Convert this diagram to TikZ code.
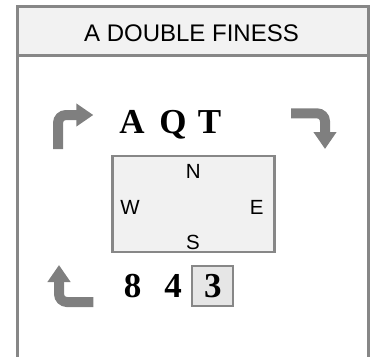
\documentclass[tikz,border=0pt]{standalone}
\usepackage{fontspec}
\setmainfont{Liberation Sans}
\newfontfamily\cardfont{Liberation Serif}
\usepackage{tikz}
\usetikzlibrary{arrows.meta}
\usepackage{xcolor}
\definecolor{Frame}{HTML}{878787}
\definecolor{Head}{HTML}{F2F2F2}
\definecolor{Table}{HTML}{F1F1F1}
\definecolor{Slot}{HTML}{E6E6E6}
\definecolor{Turn}{HTML}{7F7F7F}
\tikzset{
  turn/.style={draw=Turn, line width=10pt, rounded corners=8pt,
               -{Triangle[width=22pt, length=17pt]}},
  card/.style={anchor=base, inner sep=0pt,
               font=\cardfont\fontsize{35}{35}\selectfont\bfseries},
  seat/.style={inner sep=0pt, font=\fontsize{20.5}{20.5}\selectfont}
}

\begin{document}
\begin{tikzpicture}[x=1pt, y=-1pt]
            \useasboundingbox (0,0) rectangle (374,356);
            \clip (0,0) rectangle (374,356);
            % panel and header
            \fill[Head] (17.5,6.5) rectangle (368.3,55);
            \draw[Frame, line width=3pt] (17.5,360) -- (17.5,6.5) -- (368.3,6.5) -- (368.3,360);
            \draw[Frame, line width=3pt] (17.5,55) -- (368.3,55);
            \node[anchor=base, inner sep=0pt, font=\fontsize{24}{24}\selectfont]
                (title) at (191.5,41.7) {A DOUBLE FINESS};
            % north hand
            \node[card] (cardA) at (132,133.3) {A};
            \node[card] (cardQ) at (173,133.3) {Q};
            \node[card] (cardT) at (209.5,133.3) {T};
            % table
            \node[draw=Frame, fill=Table, line width=2.5pt,
                  minimum width=161.6pt, minimum height=96pt] (table) at (193.5,204) {};
            \node[seat, anchor=base] (north) at (193.3,178) {N};
            \node[seat, anchor=base] (west) at (130,214.6) {W};
            \node[seat, anchor=base] (east) at (256.7,214.6) {E};
            \node[seat, anchor=base] (south) at (193,249) {S};
            % south hand
            \node[draw=Frame, fill=Slot, line width=2pt,
                  minimum width=41pt, minimum height=40pt] (slot) at (212.8,286) {};
            \node[card] (card8) at (132.5,297.3) {8};
            \node[card] (card4) at (173,297.3) {4};
            \node[card] (card3) at (212.8,297.3) {3};
            % play order
            \coordinate (t1) at (58,149);
            \coordinate (t2) at (58,115);
            \coordinate (t3) at (93.3,115);
            \coordinate (u1) at (291,113.3);
            \coordinate (u2) at (325,113.3);
            \coordinate (u3) at (325,149);
            \coordinate (v1) at (93.3,302);
            \coordinate (v2) at (59,302);
            \coordinate (v3) at (59,265);
            \draw[turn] (t1) -- (t2) -- (t3);
            \draw[turn] (u1) -- (u2) -- (u3);
            \draw[turn] (v1) -- (v2) -- (v3);
        \end{tikzpicture}
\end{document}
